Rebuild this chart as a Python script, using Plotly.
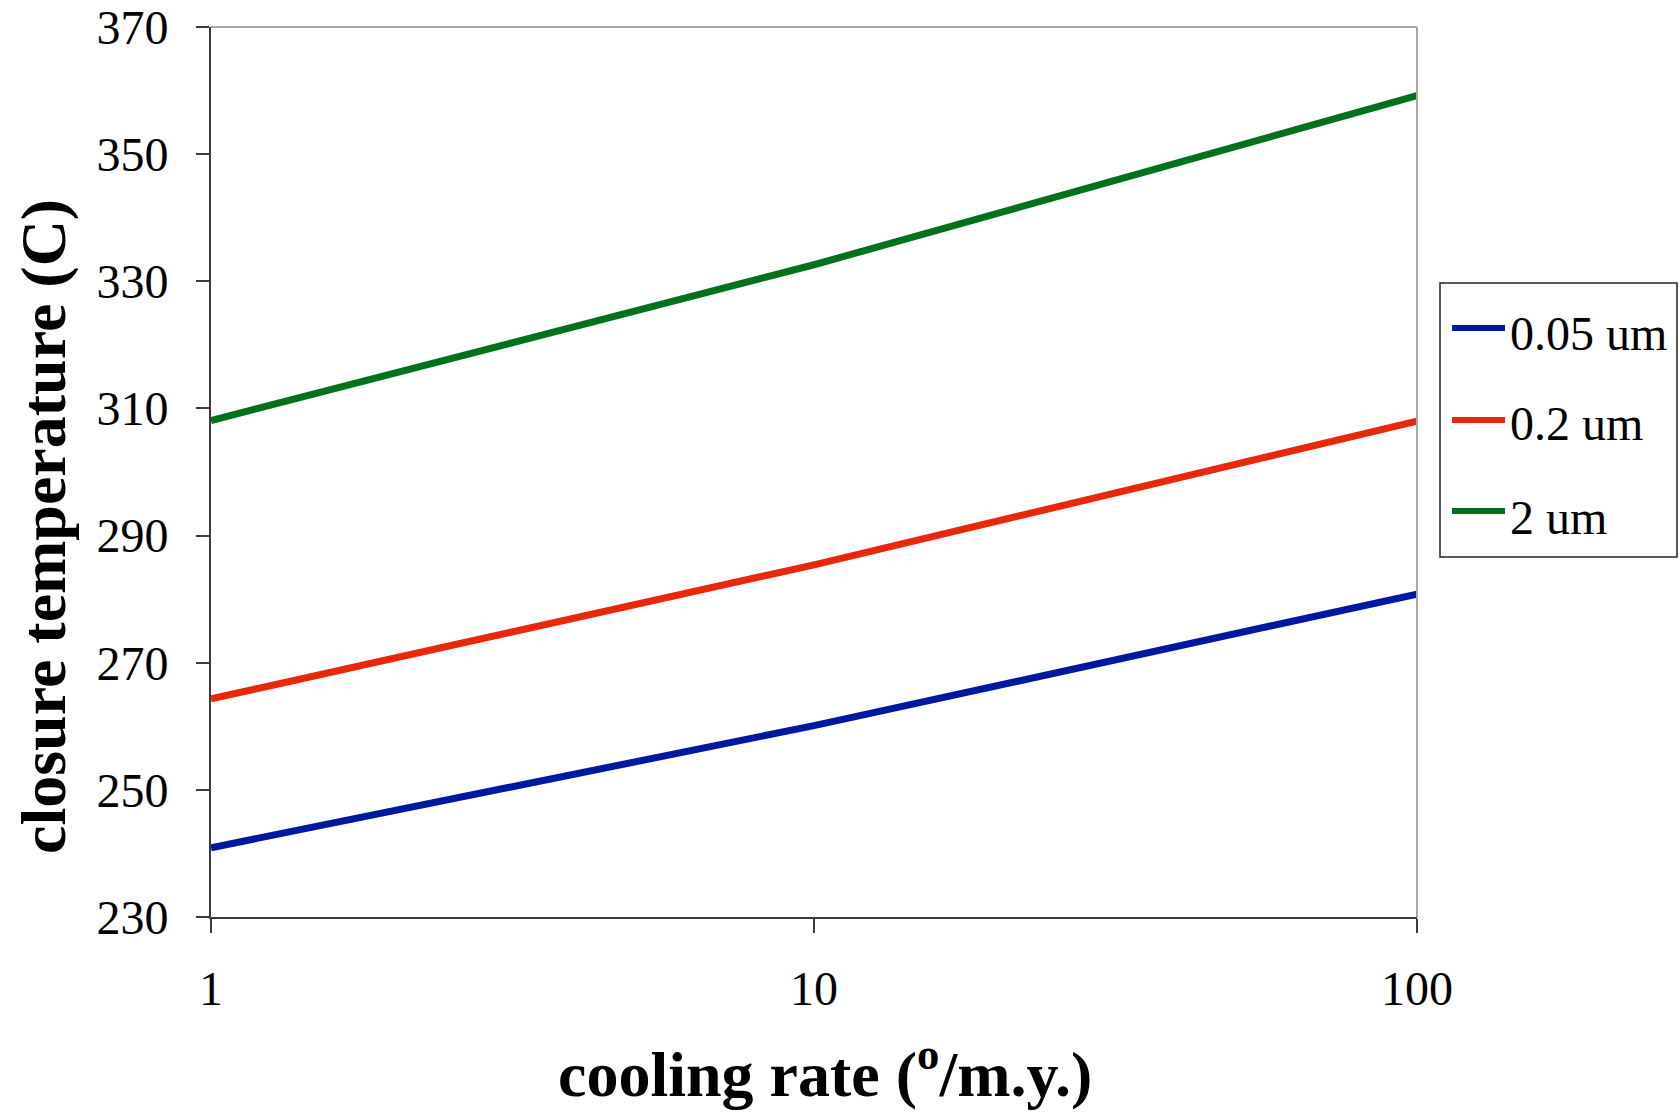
import plotly.graph_objects as go

# Cooling rate (degrees per million years) and closure temperatures (C)
cooling_rate = [1, 10, 100]
series_names = ["0.05 um", "0.2 um", "2 um"]
temp_005um = [240.9, 260.1, 280.8]
temp_02um = [264.3, 285.4, 308.0]
temp_2um = [308.1, 332.6, 359.2]
series_colors = ["#0018A0", "#E8280A", "#00721E"]

y_ticks = [230, 250, 270, 290, 310, 330, 350, 370]
x_ticks = [1, 10, 100]
x_tick_text = ["1", "10", "100"]

FONT = "Liberation Serif, Times New Roman, serif"
AXIS_DARK = "#3c3c3c"
FRAME_GRAY = "#a6a6a6"

W, H = 1680, 1114
ML, MR, MT, MB = 211, 263, 27, 197

fig = go.Figure()
for name, vals, col in zip(series_names, [temp_005um, temp_02um, temp_2um], series_colors):
    fig.add_trace(go.Scatter(
        x=cooling_rate, y=vals, mode="lines", name=name,
        line=dict(color=col, width=7), showlegend=False,
    ))

fig.update_layout(
    width=W, height=H,
    margin=dict(l=ML, r=MR, t=MT, b=MB, autoexpand=False),
    paper_bgcolor="white", plot_bgcolor="white",
    font=dict(family=FONT, color="black", size=48),
)

fig.update_xaxes(
    type="log", range=[0, 2],
    tickvals=x_ticks, ticktext=x_tick_text,
    showgrid=False, zeroline=False, automargin=False,
    showline=True, linecolor=AXIS_DARK, linewidth=2,
    ticks="outside", ticklen=14, tickwidth=2, tickcolor=AXIS_DARK,
    ticklabelstandoff=14,
    tickfont=dict(family=FONT, size=48, color="black"),
)
fig.update_yaxes(
    range=[230, 370], tickvals=y_ticks,
    showgrid=False, zeroline=False, automargin=False,
    showline=True, linecolor=AXIS_DARK, linewidth=2,
    ticks="outside", ticklen=13, tickwidth=2, tickcolor=AXIS_DARK,
    ticklabelstandoff=18,
    tickfont=dict(family=FONT, size=48, color="black"),
)

plot_w = W - ML - MR
plot_h = H - MT - MB

def px_x(px):
    return (px - ML) / plot_w

def px_y(py):
    return 1 - (py - MT) / plot_h

# Axis titles
fig.add_annotation(xref="paper", yref="paper", x=px_x(825), y=px_y(1112),
                   text="<b>cooling rate (<sup>o</sup>/m.y.)</b>", showarrow=False,
                   xanchor="center", yanchor="bottom",
                   font=dict(family=FONT, size=64, color="black"))
fig.add_annotation(xref="paper", yref="paper", x=px_x(43), y=px_y(527),
                   text="<b>closure temperature (C)</b>", showarrow=False,
                   textangle=-90, xanchor="center", yanchor="middle",
                   font=dict(family=FONT, size=64, color="black"))

# Light frame on top and right sides of the plot area
fig.add_shape(type="line", xref="paper", yref="paper", x0=0, x1=1, y0=1, y1=1,
              line=dict(color=FRAME_GRAY, width=2))
fig.add_shape(type="line", xref="paper", yref="paper", x0=1, x1=1, y0=0, y1=1,
              line=dict(color=FRAME_GRAY, width=2))

# Legend box
fig.add_shape(type="rect", xref="paper", yref="paper",
              x0=px_x(1440), x1=px_x(1677), y0=px_y(283), y1=px_y(557),
              line=dict(color="#222222", width=1.5), fillcolor="white")

row_line_y = [328, 420, 511]
row_text_y = [333, 424, 517]
for name, col, ly, ty in zip(series_names, series_colors, row_line_y, row_text_y):
    fig.add_shape(type="line", xref="paper", yref="paper",
                  x0=px_x(1452), x1=px_x(1505), y0=px_y(ly), y1=px_y(ly),
                  line=dict(color=col, width=6))
    fig.add_annotation(xref="paper", yref="paper", x=px_x(1508), y=px_y(ty),
                       text=name, showarrow=False, xanchor="left", yanchor="middle",
                       font=dict(family=FONT, size=48, color="black"))

fig.write_html("out.html")
